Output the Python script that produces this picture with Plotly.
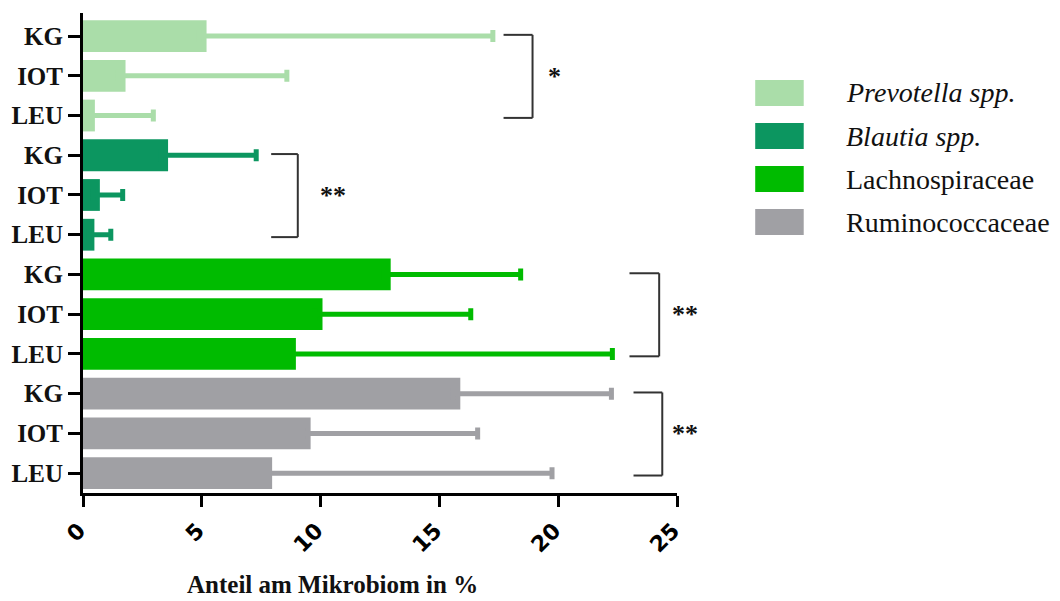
import plotly.graph_objects as go

# ---------------- data ----------------
groups = ["KG", "IOT", "LEU"]
taxa = ["<i>Prevotella spp.</i>", "<i>Blautia spp.</i>", "Lachnospiraceae", "Ruminococcaceae"]
colors = ["#AADDA9", "#0C9660", "#00BB00", "#A0A0A4"]

prevotella_mean = [5.2, 1.79, 0.5]
prevotella_upper = [17.25, 8.58, 2.96]
blautia_mean = [3.58, 0.71, 0.48]
blautia_upper = [7.29, 1.67, 1.17]
lachno_mean = [12.95, 10.08, 8.96]
lachno_upper = [18.42, 16.32, 22.28]
rumino_mean = [15.88, 9.58, 7.96]
rumino_upper = [22.24, 16.61, 19.74]

means = [prevotella_mean, blautia_mean, lachno_mean, rumino_mean]
uppers = [prevotella_upper, blautia_upper, lachno_upper, rumino_upper]

# significance brackets: (taxon index, x left, x right, label, label x)
brackets = [
    (0, 17.7, 18.92, "*", 19.5),
    (1, 7.92, 9.04, "**", 9.9),
    (2, 23.0, 24.25, "**", 24.72),
    (3, 23.17, 24.38, "**", 24.72),
]

x_ticks = [0, 5, 10, 15, 20, 25]

# ---------------- figure ----------------
n_total = len(taxa) * len(groups)
fig = go.Figure()
tickvals, ticktext = [], []
positions = []
for t, (name, col, m, u) in enumerate(zip(taxa, colors, means, uppers)):
    ys = [n_total - 1 - (t * len(groups) + g) for g in range(len(groups))]
    positions.append(ys)
    tickvals += ys
    ticktext += groups
    fig.add_trace(go.Bar(
        x=m, y=ys, orientation="h", width=0.8,
        marker=dict(color=col, line=dict(width=0)),
        name=name, showlegend=False,
        error_x=dict(type="data", symmetric=False,
                     array=[uu - mm for uu, mm in zip(u, m)],
                     # tiny inward whisker keeps the lower cap hidden inside the bar
                     arrayminus=[min(0.3, mm * 0.5) for mm in m],
                     color=col, thickness=5, width=6),
    ))

serif = "Liberation Serif"
line_col = "#333333"
for t, x0, x1, lab, lx in brackets:
    ys = positions[t]
    ytop, ybot = ys[0] + 0.03, ys[-1] - 0.06
    for (ax0, ay0, ax1, ay1) in [(x0, ytop, x1, ytop), (x1, ytop, x1, ybot), (x0, ybot, x1, ybot)]:
        fig.add_shape(type="line", xref="x", yref="y", x0=ax0, y0=ay0, x1=ax1, y1=ay1,
                      line=dict(color=line_col, width=2))
    fig.add_annotation(x=lx, y=(ytop + ybot) / 2, xref="x", yref="y", text=lab,
                       showarrow=False, xanchor="left", yanchor="middle",
                       font=dict(family=serif, size=26, color="#111111", weight="bold"))

# legend (drawn manually)
L, R, T, B = 77, 677, 13, 493
def px(x):
    return (x - L) / (R - L)
def py(y):
    return (B - y) / (B - T)

leg_tops = [80, 123, 166, 209]
for i, (name, col) in enumerate(zip(taxa, colors)):
    top = leg_tops[i]
    fig.add_shape(type="rect", xref="paper", yref="paper",
                  x0=px(756), x1=px(805), y0=py(top + 26), y1=py(top),
                  fillcolor=col, line=dict(width=0))
    fig.add_annotation(x=px(846), y=py(top + 13), xref="paper", yref="paper",
                       text=name, showarrow=False, xanchor="left", yanchor="middle",
                       font=dict(family=serif, size=28, color="#111111"))

# x-axis title
fig.add_annotation(x=px(329), y=py(584), xref="paper", yref="paper",
                   text="Anteil am Mikrobiom in %", showarrow=False,
                   xanchor="center", yanchor="middle",
                   font=dict(family=serif, size=25, color="#111111", weight="bold"))

fig.update_layout(
    width=1060, height=601,
    margin=dict(l=L, r=1060 - R, t=T, b=601 - B, pad=0),
    paper_bgcolor="white", plot_bgcolor="white",
    barmode="overlay", showlegend=False,
    xaxis=dict(range=[0, 25], tickvals=x_ticks, ticktext=[str(v) for v in x_ticks],
               tickangle=-45, showgrid=False, zeroline=False,
               showline=True, linecolor="black", linewidth=3,
               ticks="outside", ticklen=11, tickwidth=3, tickcolor="black",
               ticklabelshift=-4, ticklabelstandoff=2,
               tickfont=dict(family="DejaVu Sans", size=22, color="black", weight="bold")),
    yaxis=dict(range=[-0.5, n_total - 1 + 0.58], tickvals=tickvals, ticktext=ticktext,
               showgrid=False, zeroline=False,
               showline=True, linecolor="black", linewidth=3,
               ticks="outside", ticklen=12, tickwidth=3, tickcolor="black",
               tickfont=dict(family=serif, size=25, color="#111111", weight="bold")),
)

fig.write_html("out.html")
